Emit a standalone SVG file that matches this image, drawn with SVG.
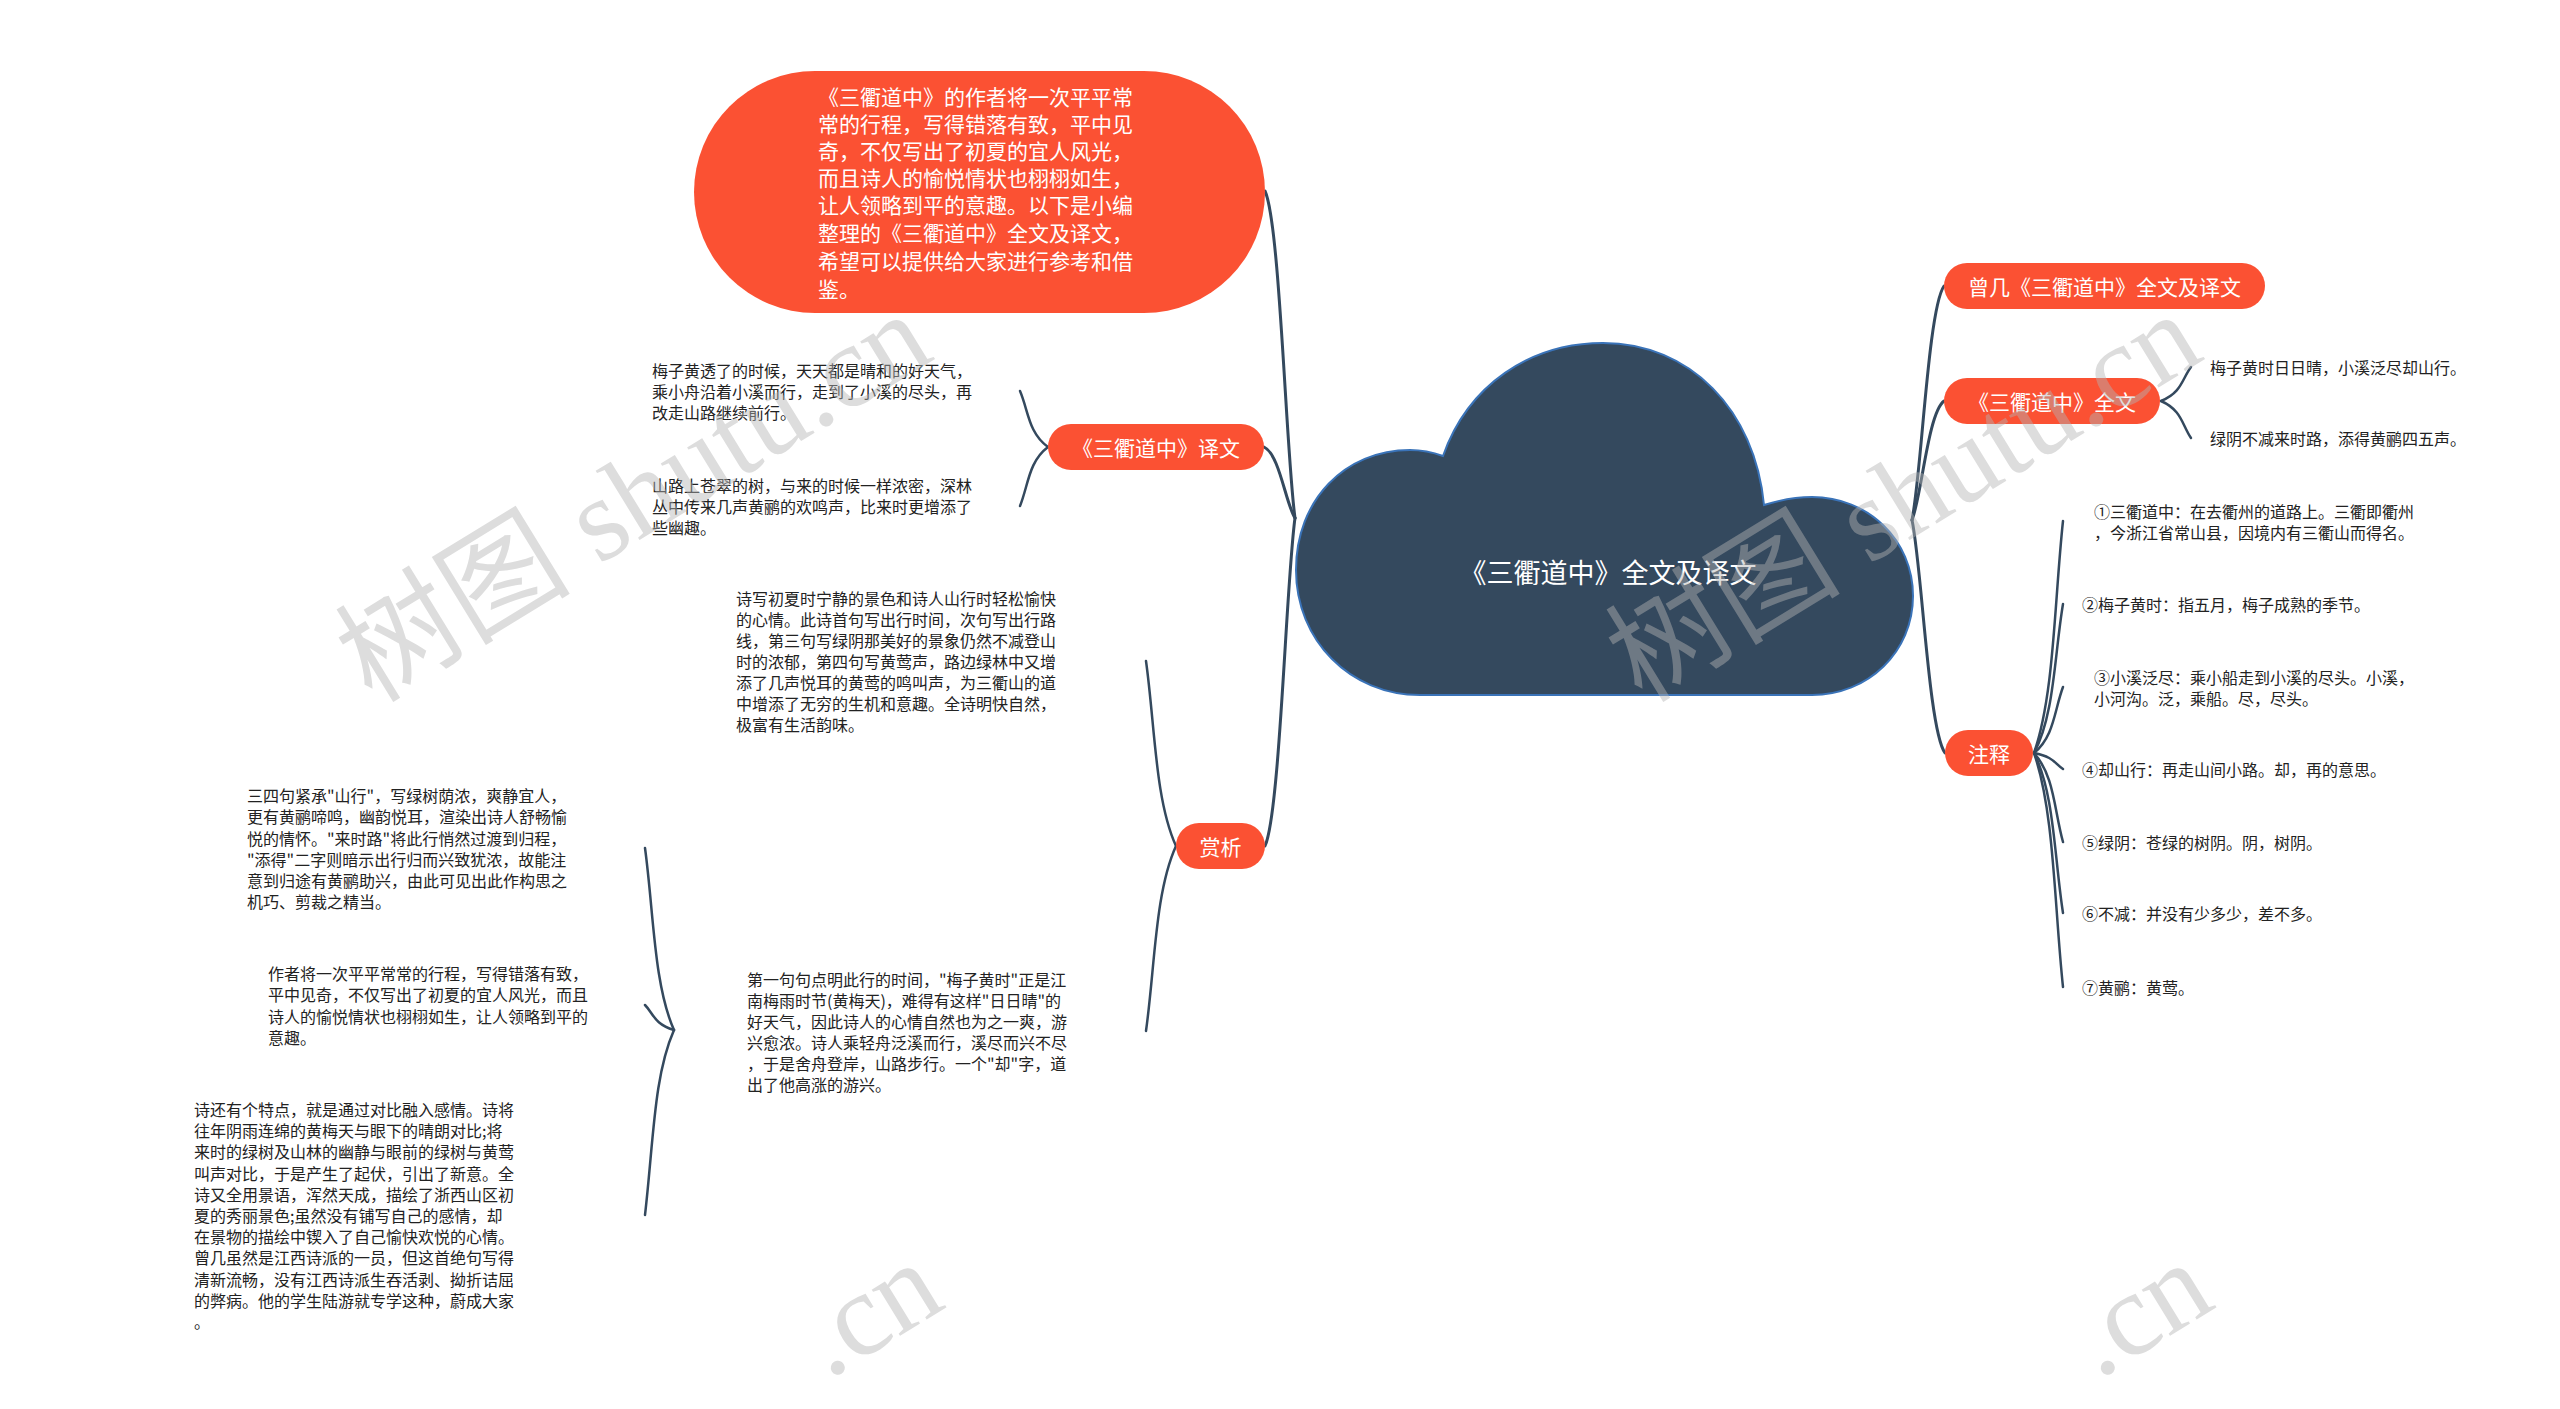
<svg xmlns="http://www.w3.org/2000/svg" width="2560" height="1409" viewBox="0 0 2560 1409">
<defs>
<style>
.pill{fill:#fb5133}
.wt{fill:#ffffff;font-family:"Noto Sans CJK SC","Noto Sans",sans-serif;dominant-baseline:central}
.pt{font-size:21px;text-anchor:middle}
.bt{fill:#222222;font-family:"Noto Sans CJK SC","Noto Sans",sans-serif;font-size:16px;dominant-baseline:central}
.ln{fill:none;stroke:#34495e;stroke-width:2.5;stroke-linecap:round}
.mln{fill:none;stroke:#34495e;stroke-width:3;stroke-linecap:round}
.wm{fill:#b4b4b4;opacity:0.45;font-family:"Liberation Serif","Noto Sans CJK SC",serif;font-size:118px}
</style>
</defs>
<rect width="2560" height="1409" fill="#ffffff"/>

<g id="connectors">
<path class="mln" d="M1912,520 C1921.6,473.2 1928,309.4 1944,286"/>
<path class="mln" d="M1912,520 C1921.6,496.2 1928,412.9 1944,401"/>
<path class="mln" d="M1912,520 C1921.9,566.6 1928.5,729.7 1945,753"/>
<path class="mln" d="M1295,518 C1286,452.6 1280,223.7 1265,191"/>
<path class="mln" d="M1295,518 C1285.7,503.8 1279.5,454.1 1264,447"/>
<path class="mln" d="M1295,518 C1286,583.6 1280,813.2 1265,846"/>
<path class="ln" d="M1048,447 C1028.4,433 1028.4,410.6 1020,391"/>
<path class="ln" d="M1048,447 C1028.4,461.75 1028.4,485.35 1020,506"/>
<path class="ln" d="M1176,846 C1155,799.75 1155,725.75 1146,661"/>
<path class="ln" d="M1176,846 C1155,892.25 1155,966.25 1146,1031"/>
<path class="ln" d="M674,1030 C653.7,984.5 653.7,911.7 645,848"/>
<path class="ln" d="M674,1030 C653.7,1023.75 653.7,1013.75 645,1005"/>
<path class="ln" d="M674,1030 C653.7,1076.25 653.7,1139.75 645,1215"/>
<path class="ln" d="M2161,401 C2182,392.5 2182,378.9 2191,367"/>
<path class="ln" d="M2161,401 C2182,410.25 2182,425 2191,438"/>
<path class="ln" d="M2034,753 C2054.3,695 2054.3,602.2 2063,521"/>
<path class="ln" d="M2034,753 C2054.3,715.75 2054.3,656.15 2063,604"/>
<path class="ln" d="M2034,753 C2054.3,736.5 2054.3,710.1 2063,687"/>
<path class="ln" d="M2034,753 C2054.3,757 2054.3,763.4 2063,769"/>
<path class="ln" d="M2034,753 C2054.3,775.25 2054.3,810.85 2063,842"/>
<path class="ln" d="M2034,753 C2054.3,793 2054.3,857 2063,913"/>
<path class="ln" d="M2034,753 C2054.3,811.5 2054.3,905.1 2063,987"/>
</g>

<g id="root">
<path d="M1420,695 C1350,695 1296,640 1296,570 C1296,500 1345,450 1410,450 C1421,450 1432,452 1443,456 C1468,385 1530,343 1603,343 C1690,343 1755,410 1764,505 C1780,500 1796,497 1812,497 C1868,497 1913,540 1913,596 C1913,652 1868,695 1812,695 Z" fill="#34495e" stroke="#3a73b8" stroke-width="2"/>
<text class="wt" x="1608" y="571" font-size="27" text-anchor="middle">《三衢道中》全文及译文</text>
</g>

<g id="intro">
<rect class="pill" x="694" y="71" width="571" height="242" rx="121"/>
<text class="wt" font-size="21">
<tspan x="818" y="96">《三衢道中》的作者将一次平平常</tspan>
<tspan x="818" y="123">常的行程，写得错落有致，平中见</tspan>
<tspan x="818" y="150">奇，不仅写出了初夏的宜人风光，</tspan>
<tspan x="818" y="177">而且诗人的愉悦情状也栩栩如生，</tspan>
<tspan x="818" y="204">让人领略到平的意趣。以下是小编</tspan>
<tspan x="818" y="232">整理的《三衢道中》全文及译文，</tspan>
<tspan x="818" y="260">希望可以提供给大家进行参考和借</tspan>
<tspan x="818" y="288">鉴。</tspan>
</text>
</g>

<g id="yiwen">
<rect class="pill" x="1048" y="424" width="216" height="46" rx="23"/>
<text class="wt pt" x="1156" y="447">《三衢道中》译文</text>
</g>
<g id="yiwen-1">
<text class="bt"><tspan x="652" y="370">梅子黄透了的时候，天天都是晴和的好天气，</tspan><tspan x="652" y="391">乘小舟沿着小溪而行，走到了小溪的尽头，再</tspan><tspan x="652" y="412">改走山路继续前行。</tspan></text>
</g>
<g id="yiwen-2">
<text class="bt"><tspan x="652" y="485">山路上苍翠的树，与来的时候一样浓密，深林</tspan><tspan x="652" y="506">丛中传来几声黄鹂的欢鸣声，比来时更增添了</tspan><tspan x="652" y="527">些幽趣。</tspan></text>
</g>

<g id="shangxi">
<rect class="pill" x="1176" y="823" width="89" height="46" rx="23"/>
<text class="wt pt" x="1220.5" y="846">赏析</text>
</g>
<g id="shangxi-1">
<text class="bt"><tspan x="736" y="598">诗写初夏时宁静的景色和诗人山行时轻松愉快</tspan><tspan x="736" y="619">的心情。此诗首句写出行时间，次句写出行路</tspan><tspan x="736" y="640">线，第三句写绿阴那美好的景象仍然不减登山</tspan><tspan x="736" y="661">时的浓郁，第四句写黄莺声，路边绿林中又增</tspan><tspan x="736" y="682">添了几声悦耳的黄莺的鸣叫声，为三衢山的道</tspan><tspan x="736" y="703">中增添了无穷的生机和意趣。全诗明快自然，</tspan><tspan x="736" y="724">极富有生活韵味。</tspan></text>
</g>
<g id="shangxi-2">
<text class="bt"><tspan x="747" y="979">第一句句点明此行的时间，"梅子黄时"正是江</tspan><tspan x="747" y="1000">南梅雨时节(黄梅天)，难得有这样"日日晴"的</tspan><tspan x="747" y="1021">好天气，因此诗人的心情自然也为之一爽，游</tspan><tspan x="747" y="1042">兴愈浓。诗人乘轻舟泛溪而行，溪尽而兴不尽</tspan><tspan x="747" y="1063">，于是舍舟登岸，山路步行。一个"却"字，道</tspan><tspan x="747" y="1084">出了他高涨的游兴。</tspan></text>
</g>
<g id="shangxi-2-1">
<text class="bt"><tspan x="247" y="795">三四句紧承"山行"，写绿树荫浓，爽静宜人，</tspan><tspan x="247" y="816">更有黄鹂啼鸣，幽韵悦耳，渲染出诗人舒畅愉</tspan><tspan x="247" y="838">悦的情怀。"来时路"将此行悄然过渡到归程，</tspan><tspan x="247" y="859">"添得"二字则暗示出行归而兴致犹浓，故能注</tspan><tspan x="247" y="880">意到归途有黄鹂助兴，由此可见出此作构思之</tspan><tspan x="247" y="901">机巧、剪裁之精当。</tspan></text>
</g>
<g id="shangxi-2-2">
<text class="bt"><tspan x="268" y="973">作者将一次平平常常的行程，写得错落有致，</tspan><tspan x="268" y="994">平中见奇，不仅写出了初夏的宜人风光，而且</tspan><tspan x="268" y="1016">诗人的愉悦情状也栩栩如生，让人领略到平的</tspan><tspan x="268" y="1037">意趣。</tspan></text>
</g>
<g id="shangxi-2-3">
<text class="bt"><tspan x="194" y="1109">诗还有个特点，就是通过对比融入感情。诗将</tspan><tspan x="194" y="1130">往年阴雨连绵的黄梅天与眼下的晴朗对比;将</tspan><tspan x="194" y="1151">来时的绿树及山林的幽静与眼前的绿树与黄莺</tspan><tspan x="194" y="1173">叫声对比，于是产生了起伏，引出了新意。全</tspan><tspan x="194" y="1194">诗又全用景语，浑然天成，描绘了浙西山区初</tspan><tspan x="194" y="1215">夏的秀丽景色;虽然没有铺写自己的感情，却</tspan><tspan x="194" y="1236">在景物的描绘中锲入了自己愉快欢悦的心情。</tspan><tspan x="194" y="1257">曾几虽然是江西诗派的一员，但这首绝句写得</tspan><tspan x="194" y="1279">清新流畅，没有江西诗派生吞活剥、拗折诘屈</tspan><tspan x="194" y="1300">的弊病。他的学生陆游就专学这种，蔚成大家</tspan><tspan x="194" y="1321">。</tspan></text>
</g>

<g id="zengji">
<rect class="pill" x="1944" y="263" width="321" height="46" rx="23"/>
<text class="wt pt" x="2104.5" y="286">曾几《三衢道中》全文及译文</text>
</g>
<g id="quanwen">
<rect class="pill" x="1944" y="378" width="216" height="46" rx="23"/>
<text class="wt pt" x="2052" y="401">《三衢道中》全文</text>
</g>
<g id="quanwen-1"><text class="bt" x="2210" y="367">梅子黄时日日晴，小溪泛尽却山行。</text></g>
<g id="quanwen-2"><text class="bt" x="2210" y="438">绿阴不减来时路，添得黄鹂四五声。</text></g>

<g id="zhushi">
<rect class="pill" x="1945" y="730" width="88" height="46" rx="23"/>
<text class="wt pt" x="1989" y="753">注释</text>
</g>
<g id="note-1"><text class="bt"><tspan x="2094" y="511">①三衢道中：在去衢州的道路上。三衢即衢州</tspan><tspan x="2094" y="532">，今浙江省常山县，因境内有三衢山而得名。</tspan></text></g>
<g id="note-2"><text class="bt" x="2082" y="604">②梅子黄时：指五月，梅子成熟的季节。</text></g>
<g id="note-3"><text class="bt"><tspan x="2094" y="677">③小溪泛尽：乘小船走到小溪的尽头。小溪，</tspan><tspan x="2094" y="698">小河沟。泛，乘船。尽，尽头。</tspan></text></g>
<g id="note-4"><text class="bt" x="2082" y="769">④却山行：再走山间小路。却，再的意思。</text></g>
<g id="note-5"><text class="bt" x="2082" y="842">⑤绿阴：苍绿的树阴。阴，树阴。</text></g>
<g id="note-6"><text class="bt" x="2082" y="913">⑥不减：并没有少多少，差不多。</text></g>
<g id="note-7"><text class="bt" x="2082" y="987">⑦黄鹂：黄莺。</text></g>

<g id="watermarks">
<text class="wm" x="372" y="704" transform="rotate(-31.5 372 704)">树图 shutu.cn</text>
<text class="wm" x="1642" y="704" transform="rotate(-31.5 1642 704)">树图 shutu.cn</text>
<text class="wm" x="828" y="1380" transform="rotate(-31.5 828 1380)">.cn</text>
<text class="wm" x="2098" y="1380" transform="rotate(-31.5 2098 1380)">.cn</text>
</g>
</svg>
